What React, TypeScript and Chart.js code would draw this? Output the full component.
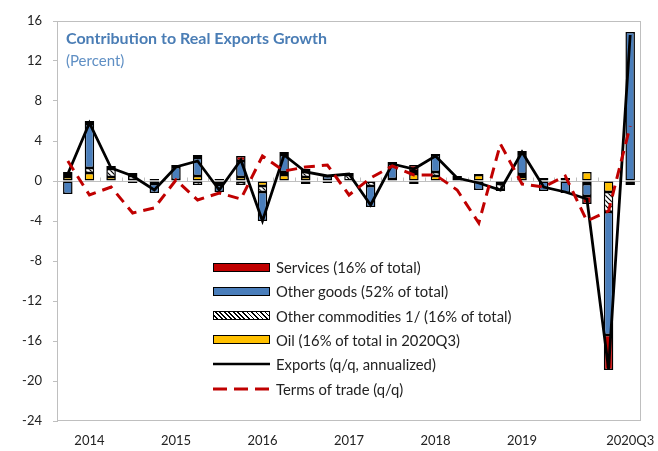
import React, { useEffect, useRef } from 'react';
import { Chart, registerables } from 'chart.js';
Chart.register(...registerables);

const quarters = [
  '2014Q1','2014Q2','2014Q3','2014Q4','2015Q1','2015Q2','2015Q3','2015Q4',
  '2016Q1','2016Q2','2016Q3','2016Q4','2017Q1','2017Q2','2017Q3','2017Q4',
  '2018Q1','2018Q2','2018Q3','2018Q4','2019Q1','2019Q2','2019Q3','2019Q4',
  '2020Q1','2020Q2','2020Q3',
];
const axisLabels = [
  '','2014','','','','2015','','','','2016','','','','2017','','','','2018','','','','2019','','','','','2020Q3',
];
const yTicks = [16, 12, 8, 4, 0, -4, -8, -12, -16, -20, -24];

const oil = [0.4,0.8,0.4,0.1,-0.3,0.0,0.5,-0.2,0.4,-0.5,0.6,0.4,-0.2,0.0,0.0,0.0,0.7,0.5,0.0,0.6,-0.3,0.4,0.3,0.0,0.9,-1.1,-0.1];
const otherCommodities = [0.2,0.5,0.8,0.4,0.2,0.1,-0.4,-0.2,-0.4,-0.6,0.3,0.5,0.1,0.6,-0.5,0.2,0.3,0.4,0.2,0.1,-0.6,0.3,0.0,0.1,-0.3,-2.0,-0.2];
const otherGoods = [-1.3,4.4,0.1,-0.2,-0.9,1.3,1.8,-0.7,1.6,-2.9,1.7,-0.3,0.4,0.1,-2.1,1.5,-0.3,1.7,0.2,-0.9,-0.1,2.0,-1.0,-1.2,-1.2,-12.3,14.9];
const services = [0.3,0.3,0.2,0.3,0.0,0.2,0.3,0.2,0.5,0.0,0.3,0.3,0.0,0.1,0.0,0.2,0.6,0.1,0.1,0.0,0.0,0.3,0.0,0.2,-0.8,-3.5,-0.1];
const exportsGrowth = [0.7,5.8,1.3,0.5,-0.9,1.4,2.0,-0.9,2.1,-4.0,2.6,0.9,0.5,0.7,-2.4,1.7,1.2,2.5,0.3,-0.2,-0.9,2.9,-0.6,-1.1,-1.8,-18.8,14.6];
const termsOfTrade = [2.0,-1.4,-0.6,-3.2,-2.7,0.1,-1.9,-1.2,-1.8,2.5,1.0,1.4,1.6,-1.4,0.3,1.5,0.6,0.6,-0.9,-4.2,3.7,-0.3,-0.6,0.5,-4.0,-3.0,5.5];

const FONT = 'Lato, "Open Sans", sans-serif';
const RED = '#C00000';
const BLUE = '#4A7EBB';
const GOLD = '#FFC000';
const GRAY = '#BFBFBF';

function makeHatch(): CanvasPattern | string {
  const c = document.createElement('canvas');
  c.width = 5; c.height = 5;
  const g = c.getContext('2d');
  if (!g) return '#fff';
  g.fillStyle = '#fff';
  g.fillRect(0, 0, 5, 5);
  g.strokeStyle = '#000';
  g.lineWidth = 1.2;
  g.beginPath();
  g.moveTo(0, 0); g.lineTo(5, 5);
  g.moveTo(-1, 4); g.lineTo(1, 6);
  g.moveTo(4, -1); g.lineTo(6, 1);
  g.stroke();
  return g.createPattern(c, 'repeat') || '#fff';
}

const framePlugin = {
  id: 'frame',
  beforeDatasetsDraw(chart: any) {
    const { ctx, chartArea, scales } = chart;
    const { left, right, top, bottom } = chartArea;
    const x = scales.x, y = scales.y;
    ctx.save();
    ctx.strokeStyle = GRAY;
    ctx.lineWidth = 1;
    ctx.strokeRect(Math.round(left) + 0.5, Math.round(top) + 0.5, Math.round(right - left) - 1, Math.round(bottom - top) - 1);
    const y0 = Math.round(y.getPixelForValue(0)) + 0.5;
    ctx.beginPath();
    ctx.moveTo(left, y0);
    ctx.lineTo(right, y0);
    const n = chart.data.labels.length;
    for (let i = 0; i < n - 1; i++) {
      const xb = Math.round((x.getPixelForValue(i) + x.getPixelForValue(i + 1)) / 2) + 0.5;
      ctx.moveTo(xb, y0);
      ctx.lineTo(xb, y0 - 4);
    }
    ctx.stroke();
    ctx.restore();
  },
};

const legendItems = [
  { kind: 'box', color: RED, label: 'Services (16% of total)' },
  { kind: 'box', color: BLUE, label: 'Other goods (52% of total)' },
  { kind: 'hatch', color: '#fff', label: 'Other commodities 1/ (16% of total)' },
  { kind: 'box', color: GOLD, label: 'Oil (16% of total in 2020Q3)' },
  { kind: 'line', color: '#000', label: 'Exports (q/q, annualized)' },
  { kind: 'dash', color: RED, label: 'Terms of trade (q/q)' },
];

export default function App() {
  const ref = useRef<HTMLCanvasElement>(null);

  useEffect(() => {
    if (!ref.current) return;
    const hatch = makeHatch();
    const barCommon = {
      type: 'bar' as const,
      borderColor: '#000',
      borderWidth: 1.5,
      borderSkipped: false,
      categoryPercentage: 0.44,
      barPercentage: 1.0,
      order: 2,
      stack: 'bars',
    };
    const chart = new Chart(ref.current, {
      type: 'bar',
      data: {
        labels: quarters,
        datasets: [
          { ...barCommon, label: 'Oil', data: oil, backgroundColor: GOLD },
          { ...barCommon, label: 'Other commodities', data: otherCommodities, backgroundColor: hatch as any },
          { ...barCommon, label: 'Other goods', data: otherGoods, backgroundColor: BLUE },
          { ...barCommon, label: 'Services', data: services, backgroundColor: RED },
          {
            type: 'line', label: 'Exports', data: exportsGrowth, borderColor: '#000', borderWidth: 2.8,
            pointRadius: 0, tension: 0, order: 1, stack: 'exp', fill: false,
          } as any,
          {
            type: 'line', label: 'Terms of trade', data: termsOfTrade, borderColor: RED, borderWidth: 3,
            borderDash: [11, 7], pointRadius: 0, tension: 0, order: 0, stack: 'tot', fill: false,
          } as any,
        ],
      },
      options: {
        responsive: false,
        animation: false,
        layout: { padding: { left: 0, top: 21, right: 17, bottom: 0 } },
        plugins: { legend: { display: false }, tooltip: { enabled: false }, title: { display: false } },
        scales: {
          x: {
            stacked: true,
            grid: { display: false, drawTicks: false },
            border: { display: false },
            ticks: {
              autoSkip: false,
              maxRotation: 0,
              padding: 12,
              color: '#222',
              font: { family: FONT, size: 13 },
              callback: (_v: any, i: number) => axisLabels[i],
            },
            afterFit: (s: any) => { s.height = 30; s.paddingRight = 0; s.paddingLeft = 0; },
          },
          y: {
            stacked: true,
            min: -24,
            max: 16,
            afterBuildTicks: (s: any) => { s.ticks = yTicks.map((v) => ({ value: v })); },
            grid: { display: true, drawOnChartArea: false, drawTicks: true, tickLength: 4, color: GRAY },
            border: { display: true, color: GRAY },
            ticks: { padding: 11, color: '#222', font: { family: FONT, size: 13 } },
            afterFit: (s: any) => { s.width = 57; s.paddingTop = 0; s.paddingBottom = 0; },
          },
        },
      },
      plugins: [framePlugin],
    });
    return () => chart.destroy();
  }, []);

  const rowTop = 267;
  const rowStep = 24.3;

  return (
    <div style={{ position: 'fixed', left: 0, top: 0, width: 658, height: 451, background: '#fff', fontFamily: FONT }}>
      <canvas ref={ref} width={658} height={451} style={{ display: 'block' }} />
      <div style={{ position: 'absolute', left: 66, top: 29, color: '#4A7DB5', fontWeight: 700, fontSize: 16, lineHeight: '18px', whiteSpace: 'nowrap' }}>
        Contribution to Real Exports Growth
      </div>
      <div style={{ position: 'absolute', left: 66, top: 51, color: '#5F8FC4', fontSize: 15, lineHeight: '18px', whiteSpace: 'nowrap' }}>
        (Percent)
      </div>
      {legendItems.map((it, i) => {
        const cy = rowTop + i * rowStep;
        let swatch: React.ReactNode;
        if (it.kind === 'box' || it.kind === 'hatch') {
          swatch = (
            <div style={{
              position: 'absolute', left: 213, top: cy - 4.5, width: 57, height: 9, boxSizing: 'border-box',
              border: '1.5px solid #000',
              background: it.kind === 'hatch'
                ? 'repeating-linear-gradient(45deg, #fff 0px, #fff 2px, #000 2px, #000 3.2px)'
                : it.color,
            }} />
          );
        } else {
          swatch = (
            <svg style={{ position: 'absolute', left: 213, top: cy - 3 }} width={58} height={6}>
              <line x1={0} y1={3} x2={57} y2={3} stroke={it.color}
                strokeWidth={it.kind === 'dash' ? 3 : 2.5}
                strokeDasharray={it.kind === 'dash' ? '14 7' : undefined} />
            </svg>
          );
        }
        return (
          <React.Fragment key={i}>
            {swatch}
            <div style={{ position: 'absolute', left: 276, top: cy - 9, fontSize: 14.8, lineHeight: '18px', color: '#222', whiteSpace: 'nowrap' }}>
              {it.label}
            </div>
          </React.Fragment>
        );
      })}
    </div>
  );
}
